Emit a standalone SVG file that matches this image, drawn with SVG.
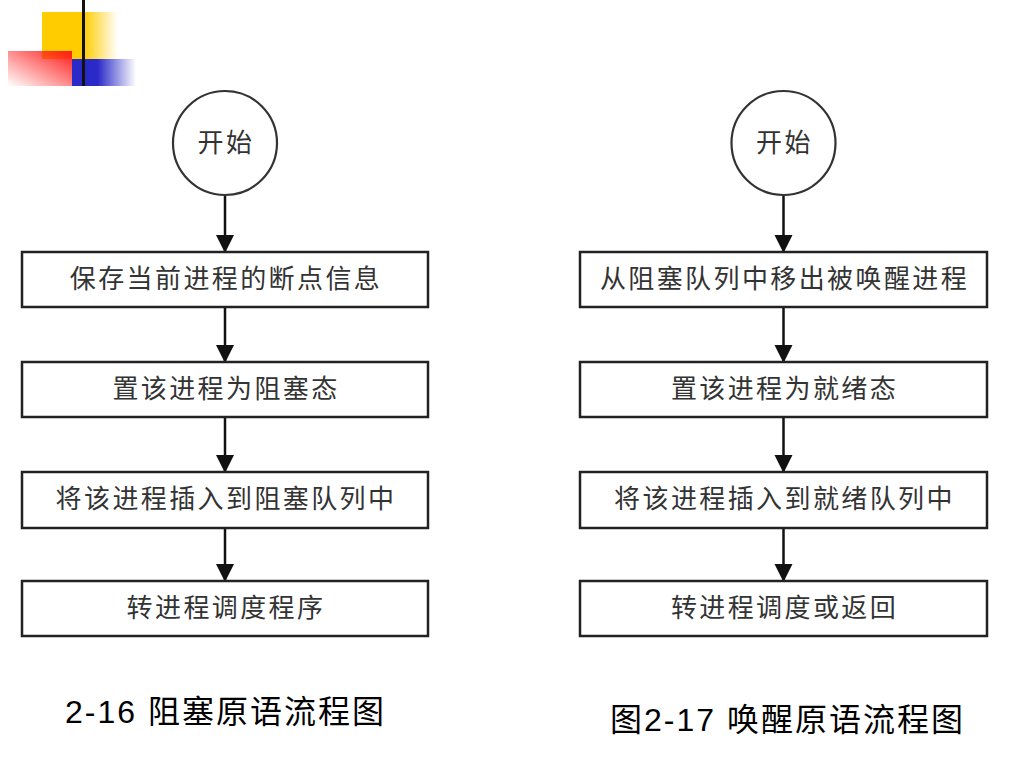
<svg xmlns="http://www.w3.org/2000/svg" width="1024" height="768" viewBox="0 0 1024 768">
<defs>
<style>
.box{fill:#fff;stroke:#222;stroke-width:2.5}
.circ{fill:#fff;stroke:#333;stroke-width:2.2}
.lbl{font-family:"Noto Sans CJK SC","Noto Sans CJK TC",sans-serif;font-size:26px;fill:#333;text-anchor:middle;letter-spacing:2.4px}
.cap{font-family:"Liberation Sans","Noto Sans CJK SC",sans-serif;font-size:32px;fill:#000;letter-spacing:2px}
.conn line{stroke:#111;stroke-width:2.5;marker-end:url(#ah)}
</style>
<marker id="ah" markerUnits="userSpaceOnUse" markerWidth="18" markerHeight="20" refX="17" refY="9" orient="auto">
<path d="M0,0 L18,9 L0,18 Z" fill="#111"/>
</marker>
<linearGradient id="gy" x1="0" y1="0" x2="1" y2="0">
<stop offset="0" stop-color="#ffcc00"/>
<stop offset="0.55" stop-color="#ffcc00"/>
<stop offset="1" stop-color="#ffcc00" stop-opacity="0"/>
</linearGradient>
<linearGradient id="gr" x1="1" y1="0" x2="0" y2="1">
<stop offset="0" stop-color="#ff1a1a"/>
<stop offset="1" stop-color="#ff1a1a" stop-opacity="0"/>
</linearGradient>
<linearGradient id="gb" x1="0" y1="0" x2="1" y2="0">
<stop offset="0" stop-color="#2a2ac8"/>
<stop offset="0.4" stop-color="#2a2ac8"/>
<stop offset="1" stop-color="#2a2ac8" stop-opacity="0"/>
</linearGradient>
</defs>
<rect width="1024" height="768" fill="#fff"/>
<g id="decor">
<rect x="42" y="12" width="76" height="47" fill="url(#gy)"/>
<rect x="72" y="59" width="64" height="27" fill="url(#gb)"/>
<rect x="8" y="51" width="64" height="35" fill="url(#gr)"/>
<line x1="83.5" y1="0" x2="83.5" y2="86" stroke="#111" stroke-width="3"/>
</g>
<g id="connectors" class="conn">
<line x1="225" y1="196" x2="225" y2="252"/>
<line x1="225" y1="307" x2="225" y2="362"/>
<line x1="225" y1="417" x2="225" y2="472"/>
<line x1="225" y1="528" x2="225" y2="581"/>
<line x1="783.5" y1="196" x2="783.5" y2="252"/>
<line x1="783.5" y1="307" x2="783.5" y2="362"/>
<line x1="783.5" y1="417" x2="783.5" y2="472"/>
<line x1="783.5" y1="528" x2="783.5" y2="581"/>
</g>
<g id="L-start"><circle class="circ" cx="225" cy="143" r="52"/><text class="lbl" x="226" y="152">开始</text></g>
<g id="L-1"><rect class="box" x="22" y="252" width="406" height="55"/><text class="lbl" x="226" y="288">保存当前进程的断点信息</text></g>
<g id="L-2"><rect class="box" x="22" y="362" width="406" height="55"/><text class="lbl" x="226" y="398">置该进程为阻塞态</text></g>
<g id="L-3"><rect class="box" x="22" y="472" width="406" height="56"/><text class="lbl" x="226" y="508">将该进程插入到阻塞队列中</text></g>
<g id="L-4"><rect class="box" x="22" y="581" width="406" height="55"/><text class="lbl" x="226" y="617">转进程调度程序</text></g>
<g id="R-start"><circle class="circ" cx="783.5" cy="143" r="52"/><text class="lbl" x="784.5" y="152">开始</text></g>
<g id="R-1"><rect class="box" x="580" y="252" width="407" height="55"/><text class="lbl" x="784.5" y="288">从阻塞队列中移出被唤醒进程</text></g>
<g id="R-2"><rect class="box" x="580" y="362" width="407" height="55"/><text class="lbl" x="784.5" y="398">置该进程为就绪态</text></g>
<g id="R-3"><rect class="box" x="580" y="472" width="407" height="56"/><text class="lbl" x="784.5" y="508">将该进程插入到就绪队列中</text></g>
<g id="R-4"><rect class="box" x="580" y="581" width="407" height="55"/><text class="lbl" x="784.5" y="617">转进程调度或返回</text></g>
<g id="captions">
<text class="cap" x="65" y="723">2-16 阻塞原语流程图</text>
<text class="cap" x="610" y="731">图2-17 唤醒原语流程图</text>
</g>
</svg>
